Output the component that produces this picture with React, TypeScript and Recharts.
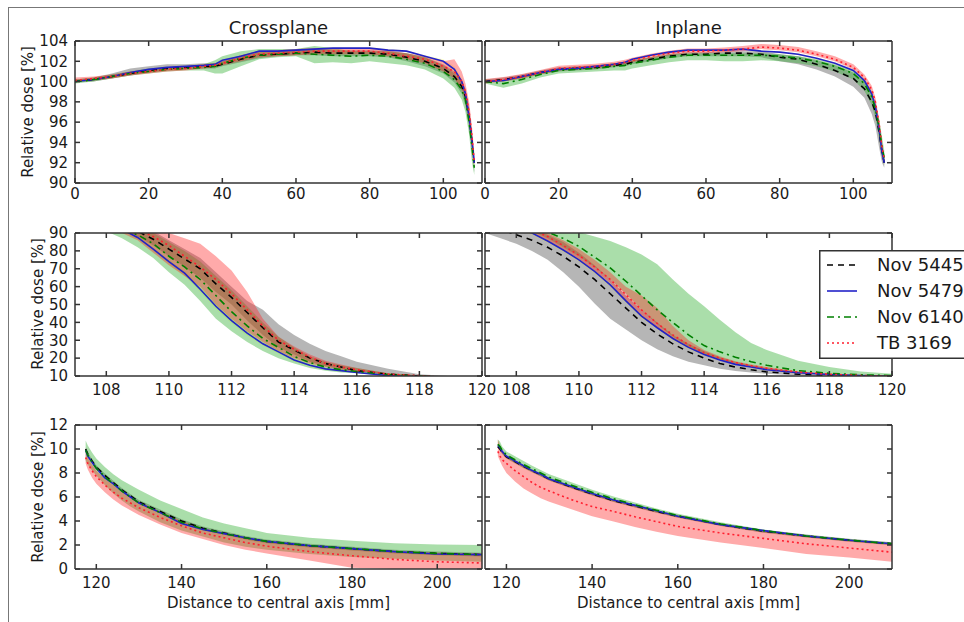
import React from "react";
import { ComposedChart, Area, Line, XAxis, YAxis } from "recharts";

// distance to central axis [mm]
const TOP_X = [0, 5, 10, 15, 20, 25, 30, 35, 38, 40, 45, 50, 55, 60, 65, 70, 75, 80, 85, 90, 95, 100, 103, 105, 106, 107, 107.8, 108.4];
const MID_X = [107, 107.5, 108, 108.5, 109, 109.5, 110, 110.5, 111, 111.5, 112, 112.5, 113, 113.5, 114, 114.5, 115, 115.5, 116, 117, 118, 119, 120];
const CP_BOT_X = [117.5, 118, 119, 120, 122, 124, 126, 128, 130, 135, 140, 145, 150, 155, 160, 170, 180, 190, 200, 210.5];
const IP_BOT_X = [118, 118.5, 119, 120, 122, 124, 126, 128, 130, 135, 140, 145, 150, 155, 160, 170, 180, 190, 200, 210];

// every point is [low, mean, high] relative dose in %
const CP_TOP_5445 = [[99.9, 100.0, 100.2], [100.0, 100.2, 100.4], [100.3, 100.5, 100.8], [100.6, 100.8, 101.3], [100.9, 101.1, 101.5], [101.1, 101.3, 101.7], [101.2, 101.4, 101.7], [101.3, 101.5, 101.8], [101.3, 101.5, 101.8], [101.5, 101.7, 102.0], [101.9, 102.2, 102.6], [102.3, 102.6, 102.9], [102.5, 102.7, 103.0], [102.6, 102.8, 103.1], [102.6, 102.9, 103.2], [102.5, 102.8, 103.1], [102.5, 102.8, 103.1], [102.5, 102.8, 103.1], [102.4, 102.7, 103.0], [102.0, 102.4, 102.8], [101.5, 102.0, 102.4], [100.8, 101.3, 101.7], [99.9, 100.5, 101.0], [98.8, 99.5, 100.2], [97.6, 98.5, 99.3], [95.5, 96.5, 97.5], [93.0, 94.0, 95.0], [91.0, 92.0, 93.0]];
const CP_TOP_5479 = [[99.9, 100.0, 100.1], [100.1, 100.2, 100.3], [100.4, 100.5, 100.6], [100.8, 100.9, 101.0], [101.1, 101.2, 101.3], [101.3, 101.4, 101.5], [101.4, 101.5, 101.6], [101.5, 101.6, 101.7], [101.6, 101.7, 101.8], [102.0, 102.1, 102.2], [102.4, 102.5, 102.6], [102.9, 103.0, 103.1], [102.9, 103.0, 103.1], [103.0, 103.1, 103.2], [103.1, 103.2, 103.3], [103.2, 103.3, 103.4], [103.2, 103.3, 103.4], [103.2, 103.3, 103.4], [103.0, 103.1, 103.2], [102.9, 103.0, 103.1], [102.4, 102.5, 102.6], [101.8, 102.0, 102.2], [100.9, 101.2, 101.5], [99.7, 100.0, 100.3], [98.4, 98.8, 99.2], [96.0, 96.5, 97.0], [93.5, 94.0, 94.5], [91.5, 92.0, 92.5]];
const CP_TOP_6140 = [[99.8, 100.0, 100.2], [100.0, 100.2, 100.4], [100.3, 100.5, 100.7], [100.6, 100.8, 101.0], [100.8, 101.0, 101.3], [101.0, 101.2, 101.4], [101.1, 101.3, 101.5], [101.1, 101.4, 101.7], [100.8, 101.5, 102.1], [100.8, 101.8, 102.5], [101.5, 102.3, 103.0], [102.2, 102.6, 103.2], [102.4, 102.7, 103.2], [102.5, 102.8, 103.2], [101.8, 102.7, 103.5], [101.9, 102.6, 103.3], [101.8, 102.5, 103.0], [102.0, 102.6, 103.0], [101.8, 102.5, 103.0], [101.6, 102.2, 102.8], [101.2, 101.8, 102.4], [100.3, 101.0, 101.6], [99.4, 100.2, 100.8], [98.2, 99.2, 100.0], [97.0, 98.2, 99.0], [94.8, 96.0, 97.0], [92.0, 93.5, 94.5], [90.8, 91.5, 92.5]];
const CP_TOP_3169 = [[100.0, 100.1, 100.4], [100.1, 100.3, 100.5], [100.3, 100.5, 100.7], [100.6, 100.8, 101.0], [100.8, 101.0, 101.2], [101.0, 101.2, 101.4], [101.1, 101.3, 101.5], [101.3, 101.5, 101.7], [101.4, 101.6, 101.8], [101.6, 101.8, 102.0], [102.0, 102.3, 102.6], [102.4, 102.7, 103.0], [102.5, 102.8, 103.1], [102.6, 102.9, 103.2], [102.7, 103.0, 103.3], [102.7, 103.0, 103.3], [102.7, 103.0, 103.3], [102.7, 103.0, 103.3], [102.5, 102.8, 103.1], [102.2, 102.5, 102.8], [101.8, 102.2, 102.5], [101.0, 101.5, 102.0], [100.3, 101.0, 102.2], [99.2, 100.0, 101.0], [98.2, 99.0, 99.8], [96.0, 97.0, 98.0], [93.5, 94.5, 95.5], [91.5, 92.0, 92.8]];

const IP_TOP_5445 = [[99.9, 100.0, 100.2], [100.0, 100.2, 100.4], [100.3, 100.5, 100.7], [100.7, 100.9, 101.1], [101.0, 101.2, 101.4], [101.1, 101.3, 101.5], [101.2, 101.4, 101.6], [101.4, 101.6, 101.8], [101.5, 101.7, 101.9], [101.7, 101.9, 102.1], [102.0, 102.2, 102.4], [102.3, 102.5, 102.7], [102.5, 102.7, 102.9], [102.5, 102.7, 102.9], [102.5, 102.8, 103.0], [102.5, 102.8, 103.0], [102.4, 102.7, 103.0], [102.0, 102.4, 102.7], [101.7, 102.2, 102.5], [101.2, 101.7, 102.1], [100.5, 101.1, 101.6], [99.5, 100.3, 100.9], [98.4, 99.3, 100.0], [96.8, 98.0, 98.8], [95.6, 97.0, 97.8], [93.5, 95.0, 96.0], [92.0, 93.0, 94.0], [91.5, 92.0, 92.5]];
const IP_TOP_5479 = [[99.9, 100.0, 100.1], [100.0, 100.1, 100.2], [100.4, 100.5, 100.6], [100.8, 100.9, 101.0], [101.1, 101.2, 101.3], [101.2, 101.3, 101.4], [101.4, 101.5, 101.6], [101.6, 101.7, 101.8], [101.8, 101.9, 102.0], [102.1, 102.2, 102.3], [102.5, 102.6, 102.7], [102.8, 102.9, 103.0], [103.0, 103.1, 103.2], [103.0, 103.1, 103.2], [103.0, 103.1, 103.2], [103.1, 103.2, 103.3], [102.9, 103.0, 103.1], [102.8, 102.9, 103.0], [102.6, 102.7, 102.8], [102.2, 102.3, 102.4], [101.7, 101.8, 101.9], [101.0, 101.1, 101.2], [99.9, 100.1, 100.3], [98.5, 98.8, 99.1], [97.2, 97.5, 97.8], [95.0, 95.3, 95.6], [92.7, 93.0, 93.3], [91.7, 92.0, 92.3]];
const IP_TOP_6140 = [[99.8, 100.0, 100.2], [99.4, 99.8, 100.1], [99.8, 100.2, 100.5], [100.4, 100.7, 100.9], [100.8, 101.1, 101.3], [100.9, 101.2, 101.4], [101.0, 101.3, 101.5], [101.1, 101.5, 101.8], [101.1, 101.6, 101.9], [101.3, 101.8, 102.1], [101.6, 102.1, 102.4], [101.9, 102.4, 102.7], [102.1, 102.6, 102.8], [102.1, 102.6, 102.8], [102.0, 102.6, 102.8], [102.0, 102.6, 102.8], [102.1, 102.6, 102.8], [102.0, 102.5, 102.7], [101.8, 102.3, 102.5], [101.5, 102.0, 102.2], [101.0, 101.5, 101.7], [100.2, 100.8, 101.1], [99.1, 99.8, 100.2], [97.7, 98.5, 99.0], [96.4, 97.3, 97.9], [94.5, 95.5, 96.3], [92.5, 93.5, 94.5], [91.8, 92.5, 93.2]];
const IP_TOP_3169 = [[99.8, 100.0, 100.25], [100.0, 100.2, 100.45], [100.3, 100.5, 100.75], [100.7, 100.9, 101.15], [101.1, 101.3, 101.55], [101.2, 101.4, 101.65], [101.3, 101.5, 101.75], [101.5, 101.7, 101.95], [101.7, 101.9, 102.15], [101.9, 102.1, 102.35], [102.3, 102.5, 102.75], [102.6, 102.8, 103.05], [102.8, 103.0, 103.25], [102.8, 103.0, 103.25], [102.9, 103.1, 103.35], [103.0, 103.2, 103.5], [103.2, 103.4, 103.7], [103.1, 103.3, 103.6], [102.9, 103.1, 103.4], [102.5, 102.7, 103.0], [102.0, 102.2, 102.5], [101.2, 101.4, 101.7], [100.1, 100.4, 100.7], [98.9, 99.2, 99.6], [97.6, 98.0, 98.4], [95.3, 95.8, 96.3], [93.0, 93.5, 94.0], [91.9, 92.3, 92.7]];

const CP_MID_5445 = [[98, 99, 100], [96.5, 98, 99], [94, 96, 98], [91.5, 94, 96.5], [88, 91, 95], [83, 86.5, 91], [77, 81, 86], [71, 75.5, 81], [65, 70, 76], [57, 61.5, 68], [50, 54, 60], [41, 45.5, 52], [33, 37, 47], [26, 29, 39], [22, 24.5, 33], [18, 20, 28], [15.5, 17, 24], [13.8, 15, 21], [12.5, 13, 18], [10.7, 11, 14], [9.8, 10, 11], [8.5, 9, 9.9], [7.5, 8, 8.5]];
const CP_MID_5479 = [[98, 99, 100], [96, 97, 98], [94, 95, 96], [91, 92, 93], [86.5, 87.5, 88.5], [80, 81, 82], [73, 74, 75], [66, 67.5, 69], [57, 58.5, 60], [47.5, 49, 50.5], [39.5, 41, 42.5], [32.5, 34, 35.5], [27, 28, 29], [22.5, 23.5, 24.5], [18, 19, 20], [15, 16, 17], [13.5, 14, 14.5], [12.5, 13, 13.5], [11.5, 12, 12.5], [9.8, 10.2, 10.6], [9, 9.5, 10], [8, 8.5, 9], [7, 7.5, 8]];
const CP_MID_6140 = [[97, 99, 100], [94, 97, 99], [91, 95, 98], [87, 92, 96.5], [82, 89, 95], [76, 84, 90], [68, 77, 85], [61, 71, 80], [52, 64, 74], [42, 55, 66], [35, 46, 58], [29, 38, 49], [24, 31, 40], [20, 26, 32], [17, 21, 26], [14.5, 17.5, 21], [13, 15, 18], [12, 13.5, 16], [11.5, 12.5, 14.5], [10.3, 10.8, 11.5], [9.5, 10, 10.4], [8.5, 9, 9.5], [7.5, 8, 8.5]];
const CP_MID_3169 = [[97, 99, 100], [95, 97.5, 100], [93, 96, 100], [90, 94, 100], [86, 92, 99], [79, 88, 96], [72, 83, 90], [66, 77, 87], [60, 71, 84], [50, 64, 77], [42, 56, 69], [35, 47, 57], [29, 38, 42], [24, 30, 32], [20, 25, 26.5], [17, 20.5, 22], [15, 17, 18.5], [13.5, 15, 16.5], [12.5, 13.5, 14.5], [10.8, 11, 11.5], [9.8, 10.2, 10.4], [8.8, 9, 9.5], [7.8, 8, 8.5]];

const IP_MID_5445 = [[90, 95, 99], [87, 92, 97], [84, 89, 95], [80, 86, 93], [75, 82, 89], [68, 77, 85], [60, 71, 79], [50.5, 64, 72], [42, 56, 64], [36, 48, 55], [30, 40, 47], [25, 33.5, 40], [21, 28, 33], [18, 23.5, 28], [16, 20, 24], [14, 17, 20.5], [12.8, 15, 18], [12, 13.5, 16], [11.2, 12.3, 14.5], [10.3, 11, 12.3], [9.7, 10.3, 11], [9, 9.8, 10.2], [8.5, 9.3, 9.8]];
const IP_MID_5479 = [[97, 98, 99], [94.5, 95.5, 96.5], [92, 93, 94], [89, 90, 91], [84.5, 85.5, 86.5], [79.5, 80.5, 81.5], [74, 75, 76], [67.5, 68.5, 69.5], [60, 61, 62], [51, 52, 53], [42.5, 43.5, 44.5], [36, 37, 38], [30, 31, 32], [25.2, 26, 26.8], [21.3, 22, 22.7], [18.5, 19, 19.5], [16, 16.5, 17], [14.5, 15, 15.5], [13, 13.5, 14], [11.4, 11.8, 12.2], [10.5, 10.8, 11.1], [9.9, 10.2, 10.5], [9.5, 9.8, 10.1]];
const IP_MID_6140 = [[97, 98, 99.5], [95, 96.5, 99], [93, 95, 98], [91, 93, 96.5], [87, 90.5, 95], [82, 87, 92.5], [77, 82.5, 90.5], [71, 76.5, 88], [64, 70.5, 85.5], [56, 63, 82], [47, 55, 78], [39, 47, 72.5], [32, 40, 64], [26.5, 33, 56], [22, 27, 49], [19, 23.5, 41.5], [17, 20.5, 34.5], [15.3, 18, 28.5], [14, 16, 24.5], [12, 13, 18.5], [10.7, 11.5, 15], [10.2, 10.7, 12.5], [10, 10.2, 11.3]];
const IP_MID_3169 = [[97, 99, 100], [95, 97, 98], [93, 94.5, 96], [90.5, 92, 94], [86, 88, 90], [81, 83, 86], [75.5, 77.5, 81], [69, 71, 75], [62, 64, 68], [52, 55.5, 60], [44, 47, 55], [37, 39.5, 48], [31, 33, 38], [26, 27.5, 30], [22, 23, 24.5], [19, 20, 21], [16.8, 17.5, 18.3], [15.2, 15.8, 16.5], [13.8, 14.3, 15], [11.8, 12.2, 12.6], [10.6, 11, 11.3], [10, 10.3, 10.6], [9.6, 9.9, 10.2]];

const CP_BOT_5445 = [[9.85, 10.0, 10.15], [9.45, 9.6, 9.75], [8.85, 9.0, 9.15], [8.35, 8.5, 8.65], [7.65, 7.8, 7.95], [7.05, 7.2, 7.35], [6.45, 6.6, 6.75], [5.95, 6.1, 6.25], [5.45, 5.6, 5.75], [4.65, 4.8, 4.95], [3.85, 4.0, 4.15], [3.25, 3.4, 3.55], [2.85, 3.0, 3.15], [2.45, 2.6, 2.75], [2.15, 2.3, 2.45], [1.8, 1.95, 2.1], [1.55, 1.7, 1.85], [1.3, 1.45, 1.6], [1.15, 1.3, 1.45], [1.05, 1.2, 1.35]];
const CP_BOT_5479 = [[9.8, 9.9, 10.0], [9.3, 9.4, 9.5], [8.8, 8.9, 9.0], [8.3, 8.4, 8.5], [7.5, 7.6, 7.7], [7.0, 7.1, 7.2], [6.4, 6.5, 6.6], [5.9, 6.0, 6.1], [5.4, 5.5, 5.6], [4.6, 4.7, 4.8], [3.7, 3.8, 3.9], [3.2, 3.3, 3.4], [2.85, 2.95, 3.05], [2.5, 2.6, 2.7], [2.2, 2.3, 2.4], [1.85, 1.95, 2.05], [1.6, 1.7, 1.8], [1.35, 1.45, 1.55], [1.15, 1.25, 1.35], [1.1, 1.2, 1.3]];
const CP_BOT_6140 = [[9.0, 9.9, 10.7], [8.7, 9.5, 10.3], [8.2, 8.9, 9.7], [7.8, 8.4, 9.2], [7.0, 7.7, 8.5], [6.3, 7.1, 7.9], [5.7, 6.5, 7.4], [5.2, 6.0, 7.0], [4.8, 5.5, 6.6], [3.9, 4.7, 5.7], [3.2, 3.9, 5.0], [2.7, 3.35, 4.3], [2.2, 2.95, 3.8], [1.85, 2.6, 3.4], [1.6, 2.3, 3.0], [1.25, 1.95, 2.6], [1.0, 1.7, 2.35], [0.85, 1.45, 2.15], [0.7, 1.3, 2.05], [0.6, 1.2, 2.0]];
const CP_BOT_3169 = [[8.8, 9.3, 9.8], [8.3, 8.8, 9.3], [7.6, 8.2, 8.7], [7.1, 7.7, 8.2], [6.4, 7.0, 7.5], [5.8, 6.4, 7.0], [5.3, 5.9, 6.4], [4.9, 5.5, 6.0], [4.5, 5.1, 5.6], [3.7, 4.3, 4.8], [3.0, 3.6, 4.0], [2.5, 3.0, 3.4], [2.0, 2.6, 3.0], [1.6, 2.2, 2.6], [1.3, 1.9, 2.3], [0.7, 1.45, 1.9], [0.1, 1.1, 1.7], [0, 0.8, 1.5], [0, 0.6, 1.35], [0, 0.5, 1.3]];

const IP_BOT_5445 = [[10.08, 10.2, 10.32], [9.88, 10.0, 10.12], [9.58, 9.7, 9.82], [9.23, 9.35, 9.47], [8.83, 8.95, 9.07], [8.43, 8.55, 8.67], [8.08, 8.2, 8.32], [7.73, 7.85, 7.97], [7.38, 7.5, 7.62], [6.73, 6.85, 6.97], [6.13, 6.25, 6.37], [5.58, 5.7, 5.82], [5.13, 5.25, 5.37], [4.68, 4.8, 4.92], [4.28, 4.4, 4.52], [3.58, 3.7, 3.82], [3.03, 3.15, 3.27], [2.63, 2.75, 2.87], [2.28, 2.4, 2.52], [1.98, 2.1, 2.22]];
const IP_BOT_5479 = [[10.22, 10.3, 10.38], [10.02, 10.1, 10.18], [9.72, 9.8, 9.88], [9.32, 9.4, 9.48], [8.92, 9.0, 9.08], [8.52, 8.6, 8.68], [8.12, 8.2, 8.28], [7.82, 7.9, 7.98], [7.42, 7.5, 7.58], [6.82, 6.9, 6.98], [6.22, 6.3, 6.38], [5.67, 5.75, 5.83], [5.22, 5.3, 5.38], [4.77, 4.85, 4.93], [4.32, 4.4, 4.48], [3.62, 3.7, 3.78], [3.12, 3.2, 3.28], [2.67, 2.75, 2.83], [2.32, 2.4, 2.48], [2.02, 2.1, 2.18]];
const IP_BOT_6140 = [[10.1, 10.4, 10.8], [9.9, 10.2, 10.6], [9.6, 9.9, 10.2], [9.2, 9.5, 9.8], [8.8, 9.1, 9.4], [8.4, 8.7, 9.0], [8.05, 8.35, 8.6], [7.7, 8.0, 8.25], [7.35, 7.65, 7.9], [6.75, 7.0, 7.25], [6.15, 6.4, 6.6], [5.6, 5.85, 6.05], [5.15, 5.35, 5.55], [4.7, 4.9, 5.05], [4.3, 4.45, 4.6], [3.6, 3.75, 3.9], [3.05, 3.2, 3.3], [2.65, 2.75, 2.85], [2.3, 2.4, 2.5], [2.0, 2.1, 2.2]];
const IP_BOT_3169 = [[9.4, 9.8, 10.8], [9.0, 9.4, 10.3], [8.6, 9.1, 9.9], [8.0, 8.8, 9.4], [7.3, 8.2, 9.0], [6.7, 7.7, 8.6], [6.3, 7.2, 8.2], [5.9, 6.8, 7.8], [5.6, 6.5, 7.5], [5.0, 5.8, 6.85], [4.4, 5.2, 6.25], [3.95, 4.8, 5.7], [3.5, 4.35, 5.25], [3.1, 3.95, 4.8], [2.75, 3.55, 4.4], [2.2, 3.0, 3.7], [1.75, 2.55, 3.15], [1.25, 2.1, 2.7], [0.95, 1.75, 2.35], [0.6, 1.4, 2.05]];

const TOP_XTICKS = [0, 20, 40, 60, 80, 100];
const TOP_YTICKS = [90, 92, 94, 96, 98, 100, 102, 104];
const MID_XTICKS = [108, 110, 112, 114, 116, 118, 120];
const MID_YTICKS = [10, 20, 30, 40, 50, 60, 70, 80, 90];
const BOT_XTICKS = [120, 140, 160, 180, 200];
const BOT_YTICKS = [0, 2, 4, 6, 8, 10, 12];

const DETECTORS = [
  { key: "n5445", name: "Nov 5445", color: "#000000", dash: "6 5", band: "#7a7a7a", bandOpacity: 0.55 },
  { key: "n5479", name: "Nov 5479", color: "#2222c8", dash: undefined, band: "#ffff00", bandOpacity: 0.2 },
  { key: "n6140", name: "Nov 6140", color: "#008000", dash: "7 4 2 4", band: "#35b035", bandOpacity: 0.42 },
  { key: "tb3169", name: "TB 3169", color: "#ff1f2f", dash: "2 3", band: "#ff2020", bandOpacity: 0.38 },
];

const FONT = "'DejaVu Sans', sans-serif";
const AXIS = "#333333";

function toRows(xs: number[], series: number[][][]) {
  return xs.map((x, i) => {
    const row: any = { x };
    DETECTORS.forEach((d, j) => {
      const [lo, mid, hi] = series[j][i];
      row[d.key] = mid;
      row[d.key + "Band"] = [lo, hi];
    });
    return row;
  });
}

const Panel = ({ left, top, width, height, rows, xDomain, xTicks, yDomain, yTicks, yLabels, xGap }: any) => {
  const yw = 60;
  const xh = 32;
  const mt = 12;
  const mr = 20;
  const blank = () => "";
  const tickStyle = { fill: "#1a1a1a", fontSize: 15, fontFamily: FONT };
  return (
    <div style={{ position: "absolute", left: left - yw, top: top - 1 - mt }}>
      <ComposedChart width={yw + width + 1 + mr} height={mt + 1 + height + xh} data={rows}
        margin={{ top: mt, right: mr, bottom: 0, left: 0 }}>
        <XAxis dataKey="x" type="number" domain={xDomain} ticks={xTicks} interval={0} allowDataOverflow height={xh}
          tickSize={-5} tickMargin={xGap} stroke={AXIS} strokeWidth={1.5} tick={tickStyle} />
        <XAxis xAxisId="top" orientation="top" dataKey="x" type="number" domain={xDomain} ticks={xTicks} interval={0}
          allowDataOverflow height={1} tickSize={-5} tickFormatter={blank} stroke={AXIS} strokeWidth={1.5} />
        <YAxis type="number" domain={yDomain} ticks={yTicks} interval={0} allowDataOverflow width={yw}
          tickSize={-5} tickMargin={12} stroke={AXIS} strokeWidth={1.5} tick={tickStyle}
          tickFormatter={yLabels ? undefined : blank} />
        <YAxis yAxisId="right" orientation="right" type="number" domain={yDomain} ticks={yTicks} interval={0}
          allowDataOverflow width={1} tickSize={-5} tickFormatter={blank} stroke={AXIS} strokeWidth={1.5} />
        {DETECTORS.map((d) => (
          <Area key={d.key + "Band"} dataKey={d.key + "Band"} type="linear" stroke="none" fill={d.band}
            fillOpacity={d.bandOpacity} isAnimationActive={false} />
        ))}
        {DETECTORS.map((d) => (
          <Line key={d.key} dataKey={d.key} type="linear" stroke={d.color} strokeWidth={1.6}
            strokeDasharray={d.dash} dot={false} isAnimationActive={false} />
        ))}
      </ComposedChart>
    </div>
  );
};

const RotLabel = ({ cx, cy, text }: any) => (
  <div style={{ position: "absolute", left: cx, top: cy, transform: "translate(-50%, -50%) rotate(-90deg)",
    whiteSpace: "nowrap", fontSize: 15, lineHeight: "15px" }}>{text}</div>
);

const CenterText = ({ cx, cy, text, size }: any) => (
  <div style={{ position: "absolute", left: cx, top: cy, transform: "translate(-50%, -50%)",
    whiteSpace: "nowrap", fontSize: size, lineHeight: `${size}px` }}>{text}</div>
);

export default function App() {
  const L1 = 75, L2 = 485, W = 407;
  return (
    <div style={{ position: "absolute", left: 0, top: 0, width: 964, height: 622, background: "#fff",
      overflow: "hidden", fontFamily: FONT, color: "#1a1a1a" }}>
      <div style={{ position: "absolute", left: 8, top: 7, width: 960, height: 620,
        borderTop: "1px solid #777", borderLeft: "1px solid #777" }} />

      <CenterText cx={L1 + W / 2} cy={28} text="Crossplane" size={18} />
      <CenterText cx={L2 + W / 2} cy={28} text="Inplane" size={18} />

      <Panel left={L1} top={41} width={W} height={142} rows={toRows(TOP_X, [CP_TOP_5445, CP_TOP_5479, CP_TOP_6140, CP_TOP_3169])}
        xDomain={[0, 110.5]} xTicks={TOP_XTICKS} yDomain={[90, 104]} yTicks={TOP_YTICKS} yLabels xGap={10} />
      <Panel left={L2} top={41} width={W} height={142} rows={toRows(TOP_X, [IP_TOP_5445, IP_TOP_5479, IP_TOP_6140, IP_TOP_3169])}
        xDomain={[0, 110.5]} xTicks={TOP_XTICKS} yDomain={[90, 104]} yTicks={TOP_YTICKS} yLabels={false} xGap={10} />

      <Panel left={L1} top={233} width={W} height={143} rows={toRows(MID_X, [CP_MID_5445, CP_MID_5479, CP_MID_6140, CP_MID_3169])}
        xDomain={[107, 120]} xTicks={MID_XTICKS} yDomain={[10, 90]} yTicks={MID_YTICKS} yLabels xGap={13} />
      <Panel left={L2} top={233} width={W} height={143} rows={toRows(MID_X, [IP_MID_5445, IP_MID_5479, IP_MID_6140, IP_MID_3169])}
        xDomain={[107, 120]} xTicks={MID_XTICKS} yDomain={[10, 90]} yTicks={MID_YTICKS} yLabels={false} xGap={13} />

      <Panel left={L1} top={425} width={W} height={144} rows={toRows(CP_BOT_X, [CP_BOT_5445, CP_BOT_5479, CP_BOT_6140, CP_BOT_3169])}
        xDomain={[115, 210.5]} xTicks={BOT_XTICKS} yDomain={[0, 12]} yTicks={BOT_YTICKS} yLabels xGap={13} />
      <Panel left={L2} top={425} width={W} height={144} rows={toRows(IP_BOT_X, [IP_BOT_5445, IP_BOT_5479, IP_BOT_6140, IP_BOT_3169])}
        xDomain={[115, 210]} xTicks={BOT_XTICKS} yDomain={[0, 12]} yTicks={BOT_YTICKS} yLabels={false} xGap={13} />

      <RotLabel cx={28} cy={112} text="Relative dose [%]" />
      <RotLabel cx={38} cy={304} text="Relative dose [%]" />
      <RotLabel cx={38} cy={497} text="Relative dose [%]" />
      <CenterText cx={L1 + W / 2} cy={603} text="Distance to central axis [mm]" size={15} />
      <CenterText cx={L2 + W / 2} cy={603} text="Distance to central axis [mm]" size={15} />

      <svg style={{ position: "absolute", left: 819, top: 250 }} width={145} height={109}>
        <rect x={0.75} y={0.75} width={150} height={107.5} fill="#fff" stroke={AXIS} strokeWidth={1.5} />
        {DETECTORS.map((d, i) => (
          <g key={d.key}>
            <line x1={8} x2={38} y1={15 + i * 26} y2={15 + i * 26} stroke={d.color} strokeWidth={1.6} strokeDasharray={d.dash} />
            <text x={58} y={15 + i * 26} dy="0.36em" fontSize={18} fontFamily={FONT} fill="#1a1a1a">{d.name}</text>
          </g>
        ))}
      </svg>
    </div>
  );
}
